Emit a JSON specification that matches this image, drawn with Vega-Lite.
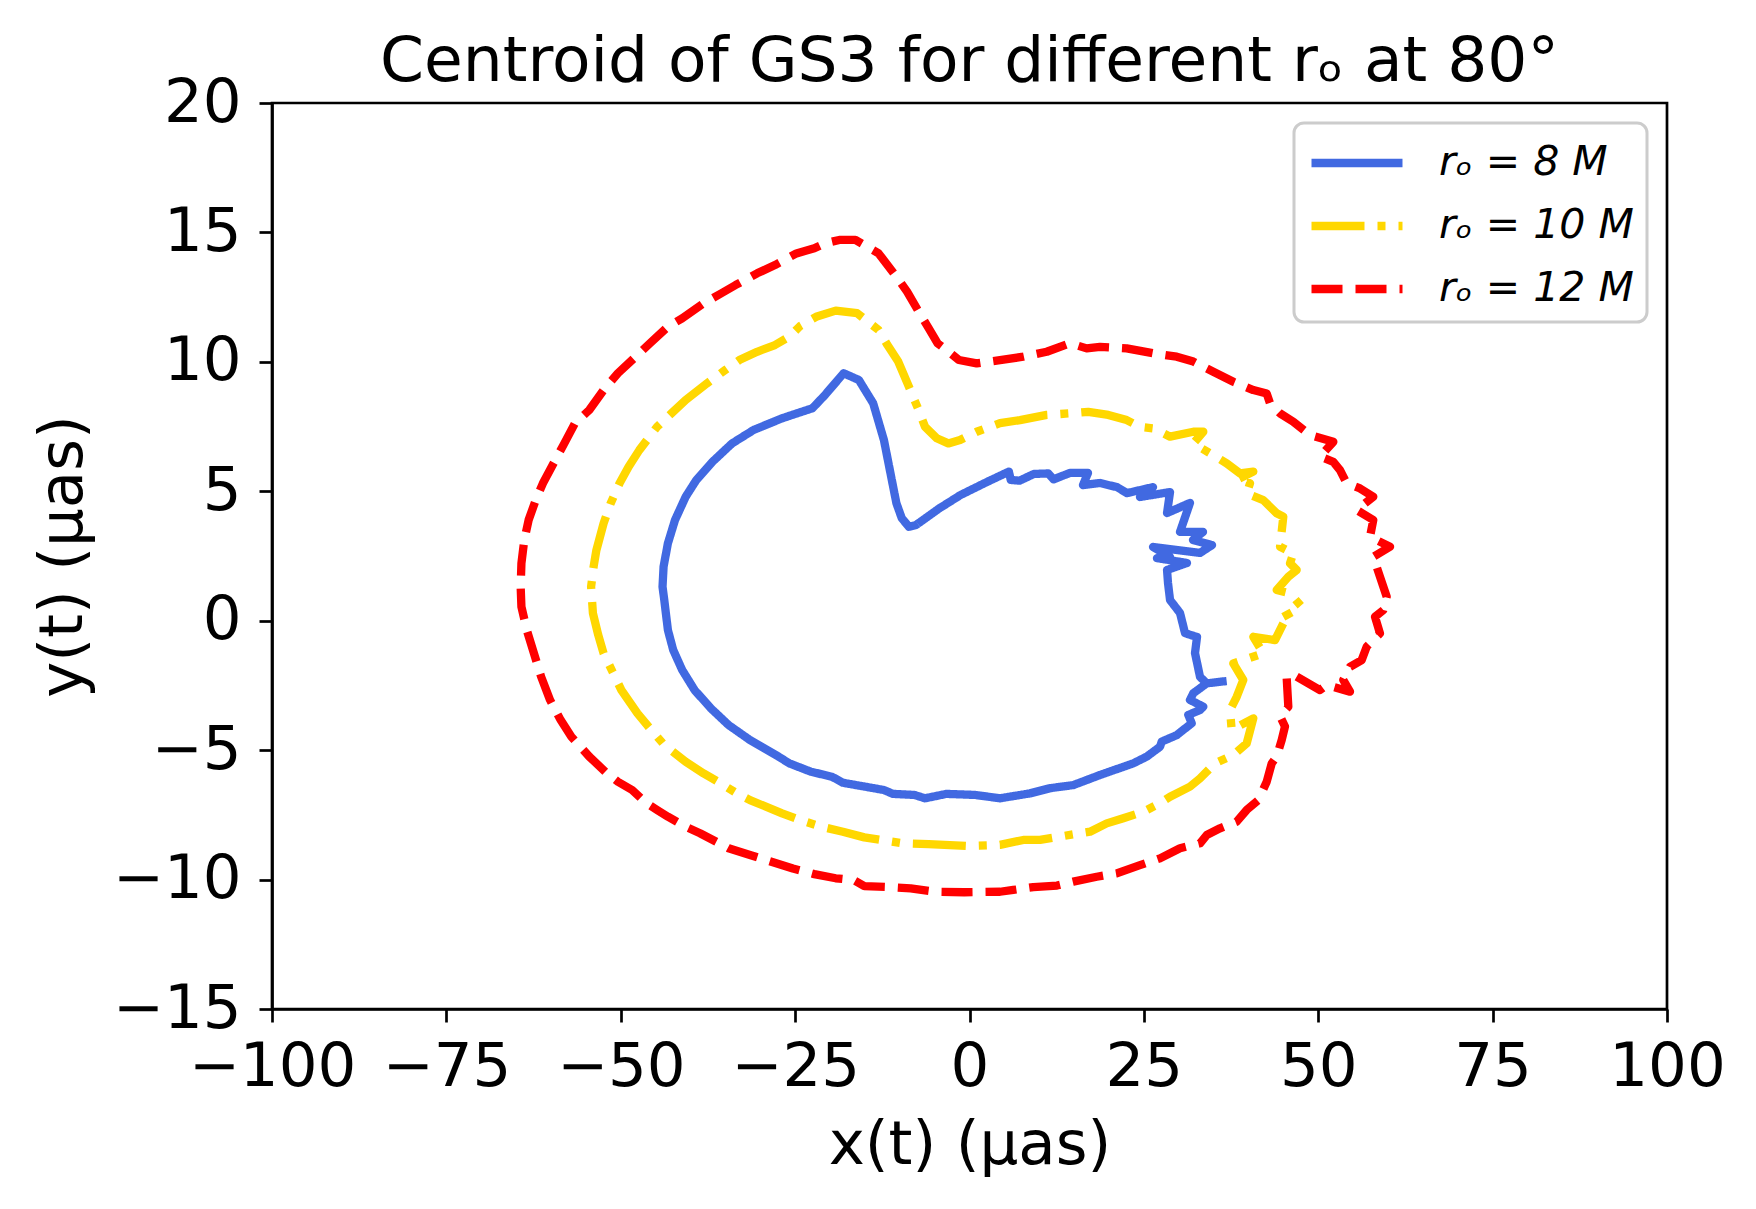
{
  "$schema": "https://vega.github.io/schema/vega-lite/v6.json",
  "width": 1395,
  "height": 906,
  "autosize": {"type": "none"},
  "padding": {"left": 272, "top": 103, "right": 89, "bottom": 200},
  "background": "white",
  "title": {
    "text": "Centroid of GS3 for different rₒ at 80°",
    "font": "DejaVu Sans",
    "fontSize": 63,
    "fontWeight": "normal",
    "color": "black",
    "baseline": "alphabetic",
    "offset": -72
  },
  "data": {
    "values": [
      {"series": "rₒ = 8 M", "i": 1, "x": 36.87, "y": -2.33},
      {"series": "rₒ = 8 M", "i": 2, "x": 34.01, "y": -2.42},
      {"series": "rₒ = 8 M", "i": 3, "x": 32.09, "y": -2.80},
      {"series": "rₒ = 8 M", "i": 4, "x": 31.61, "y": -3.06},
      {"series": "rₒ = 8 M", "i": 5, "x": 33.52, "y": -3.32},
      {"series": "rₒ = 8 M", "i": 6, "x": 33.05, "y": -3.45},
      {"series": "rₒ = 8 M", "i": 7, "x": 31.37, "y": -3.64},
      {"series": "rₒ = 8 M", "i": 8, "x": 31.86, "y": -3.96},
      {"series": "rₒ = 8 M", "i": 9, "x": 29.71, "y": -4.42},
      {"series": "rₒ = 8 M", "i": 10, "x": 27.56, "y": -4.67},
      {"series": "rₒ = 8 M", "i": 11, "x": 27.31, "y": -4.87},
      {"series": "rₒ = 8 M", "i": 12, "x": 25.41, "y": -5.25},
      {"series": "rₒ = 8 M", "i": 13, "x": 23.48, "y": -5.51},
      {"series": "rₒ = 8 M", "i": 14, "x": 18.71, "y": -5.96},
      {"series": "rₒ = 8 M", "i": 15, "x": 14.88, "y": -6.35},
      {"series": "rₒ = 8 M", "i": 16, "x": 11.54, "y": -6.47},
      {"series": "rₒ = 8 M", "i": 17, "x": 8.67, "y": -6.67},
      {"series": "rₒ = 8 M", "i": 18, "x": 4.37, "y": -6.86},
      {"series": "rₒ = 8 M", "i": 19, "x": 0.79, "y": -6.73},
      {"series": "rₒ = 8 M", "i": 20, "x": -3.31, "y": -6.69},
      {"series": "rₒ = 8 M", "i": 21, "x": -6.38, "y": -6.86},
      {"series": "rₒ = 8 M", "i": 22, "x": -7.91, "y": -6.73},
      {"series": "rₒ = 8 M", "i": 23, "x": -10.98, "y": -6.69},
      {"series": "rₒ = 8 M", "i": 24, "x": -12.27, "y": -6.54},
      {"series": "rₒ = 8 M", "i": 25, "x": -18.15, "y": -6.26},
      {"series": "rₒ = 8 M", "i": 26, "x": -19.70, "y": -6.03},
      {"series": "rₒ = 8 M", "i": 27, "x": -22.77, "y": -5.83},
      {"series": "rₒ = 8 M", "i": 28, "x": -25.84, "y": -5.51},
      {"series": "rₒ = 8 M", "i": 29, "x": -27.37, "y": -5.25},
      {"series": "rₒ = 8 M", "i": 30, "x": -31.47, "y": -4.61},
      {"series": "rₒ = 8 M", "i": 31, "x": -34.54, "y": -4.03},
      {"series": "rₒ = 8 M", "i": 32, "x": -37.10, "y": -3.38},
      {"series": "rₒ = 8 M", "i": 33, "x": -39.41, "y": -2.68},
      {"series": "rₒ = 8 M", "i": 34, "x": -41.20, "y": -1.90},
      {"series": "rₒ = 8 M", "i": 35, "x": -42.48, "y": -1.13},
      {"series": "rₒ = 8 M", "i": 36, "x": -43.24, "y": -0.36},
      {"series": "rₒ = 8 M", "i": 37, "x": -43.76, "y": 0.80},
      {"series": "rₒ = 8 M", "i": 38, "x": -44.01, "y": 1.31},
      {"series": "rₒ = 8 M", "i": 39, "x": -43.86, "y": 2.09},
      {"series": "rₒ = 8 M", "i": 40, "x": -43.24, "y": 2.99},
      {"series": "rₒ = 8 M", "i": 41, "x": -42.22, "y": 3.89},
      {"series": "rₒ = 8 M", "i": 42, "x": -40.69, "y": 4.79},
      {"series": "rₒ = 8 M", "i": 43, "x": -39.15, "y": 5.44},
      {"series": "rₒ = 8 M", "i": 44, "x": -36.85, "y": 6.14},
      {"series": "rₒ = 8 M", "i": 45, "x": -34.04, "y": 6.85},
      {"series": "rₒ = 8 M", "i": 46, "x": -30.95, "y": 7.37},
      {"series": "rₒ = 8 M", "i": 47, "x": -26.87, "y": 7.82},
      {"series": "rₒ = 8 M", "i": 48, "x": -22.51, "y": 8.21},
      {"series": "rₒ = 8 M", "i": 49, "x": -20.72, "y": 8.72},
      {"series": "rₒ = 8 M", "i": 50, "x": -18.05, "y": 9.56},
      {"series": "rₒ = 8 M", "i": 51, "x": -15.86, "y": 9.30},
      {"series": "rₒ = 8 M", "i": 52, "x": -13.81, "y": 8.40},
      {"series": "rₒ = 8 M", "i": 53, "x": -12.27, "y": 6.98},
      {"series": "rₒ = 8 M", "i": 54, "x": -10.48, "y": 4.54},
      {"series": "rₒ = 8 M", "i": 55, "x": -9.71, "y": 3.96},
      {"series": "rₒ = 8 M", "i": 56, "x": -8.69, "y": 3.63},
      {"series": "rₒ = 8 M", "i": 57, "x": -7.66, "y": 3.70},
      {"series": "rₒ = 8 M", "i": 58, "x": -4.33, "y": 4.34},
      {"series": "rₒ = 8 M", "i": 59, "x": -1.26, "y": 4.86},
      {"series": "rₒ = 8 M", "i": 60, "x": 2.58, "y": 5.37},
      {"series": "rₒ = 8 M", "i": 61, "x": 5.65, "y": 5.76},
      {"series": "rₒ = 8 M", "i": 62, "x": 5.91, "y": 5.44},
      {"series": "rₒ = 8 M", "i": 63, "x": 7.18, "y": 5.41},
      {"series": "rₒ = 8 M", "i": 64, "x": 9.23, "y": 5.67},
      {"series": "rₒ = 8 M", "i": 65, "x": 11.28, "y": 5.69},
      {"series": "rₒ = 8 M", "i": 66, "x": 12.06, "y": 5.46},
      {"series": "rₒ = 8 M", "i": 67, "x": 12.98, "y": 5.56},
      {"series": "rₒ = 8 M", "i": 68, "x": 14.41, "y": 5.71},
      {"series": "rₒ = 8 M", "i": 69, "x": 16.99, "y": 5.71},
      {"series": "rₒ = 8 M", "i": 70, "x": 16.27, "y": 5.24},
      {"series": "rₒ = 8 M", "i": 71, "x": 18.71, "y": 5.32},
      {"series": "rₒ = 8 M", "i": 72, "x": 21.15, "y": 5.16},
      {"series": "rₒ = 8 M", "i": 73, "x": 22.58, "y": 4.93},
      {"series": "rₒ = 8 M", "i": 74, "x": 26.31, "y": 5.16},
      {"series": "rₒ = 8 M", "i": 75, "x": 24.44, "y": 4.78},
      {"series": "rₒ = 8 M", "i": 76, "x": 28.75, "y": 4.97},
      {"series": "rₒ = 8 M", "i": 77, "x": 28.32, "y": 4.16},
      {"series": "rₒ = 8 M", "i": 78, "x": 31.61, "y": 4.55},
      {"series": "rₒ = 8 M", "i": 79, "x": 30.18, "y": 3.43},
      {"series": "rₒ = 8 M", "i": 80, "x": 33.48, "y": 3.43},
      {"series": "rₒ = 8 M", "i": 81, "x": 32.04, "y": 3.12},
      {"series": "rₒ = 8 M", "i": 82, "x": 34.77, "y": 2.92},
      {"series": "rₒ = 8 M", "i": 83, "x": 33.05, "y": 2.62},
      {"series": "rₒ = 8 M", "i": 84, "x": 26.31, "y": 2.85},
      {"series": "rₒ = 8 M", "i": 85, "x": 28.75, "y": 2.46},
      {"series": "rₒ = 8 M", "i": 86, "x": 26.88, "y": 2.42},
      {"series": "rₒ = 8 M", "i": 87, "x": 31.18, "y": 2.23},
      {"series": "rₒ = 8 M", "i": 88, "x": 28.32, "y": 1.96},
      {"series": "rₒ = 8 M", "i": 89, "x": 28.46, "y": 1.46},
      {"series": "rₒ = 8 M", "i": 90, "x": 28.75, "y": 0.80},
      {"series": "rₒ = 8 M", "i": 91, "x": 30.18, "y": 0.30},
      {"series": "rₒ = 8 M", "i": 92, "x": 30.90, "y": -0.48},
      {"series": "rₒ = 8 M", "i": 93, "x": 32.62, "y": -0.63},
      {"series": "rₒ = 8 M", "i": 94, "x": 32.33, "y": -1.25},
      {"series": "rₒ = 8 M", "i": 95, "x": 33.05, "y": -2.17},
      {"series": "rₒ = 8 M", "i": 96, "x": 34.01, "y": -2.42},

      {"series": "rₒ = 10 M", "i": 1, "x": 44.99, "y": -0.10},
      {"series": "rₒ = 10 M", "i": 2, "x": 43.80, "y": -0.75},
      {"series": "rₒ = 10 M", "i": 3, "x": 40.69, "y": -0.62},
      {"series": "rₒ = 10 M", "i": 4, "x": 42.12, "y": -1.26},
      {"series": "rₒ = 10 M", "i": 5, "x": 37.82, "y": -1.65},
      {"series": "rₒ = 10 M", "i": 6, "x": 39.25, "y": -2.29},
      {"series": "rₒ = 10 M", "i": 7, "x": 38.31, "y": -2.94},
      {"series": "rₒ = 10 M", "i": 8, "x": 37.35, "y": -3.45},
      {"series": "rₒ = 10 M", "i": 9, "x": 37.59, "y": -4.22},
      {"series": "rₒ = 10 M", "i": 10, "x": 40.69, "y": -3.77},
      {"series": "rₒ = 10 M", "i": 11, "x": 39.74, "y": -4.74},
      {"series": "rₒ = 10 M", "i": 12, "x": 37.82, "y": -5.19},
      {"series": "rₒ = 10 M", "i": 13, "x": 35.20, "y": -5.51},
      {"series": "rₒ = 10 M", "i": 14, "x": 33.05, "y": -6.09},
      {"series": "rₒ = 10 M", "i": 15, "x": 31.61, "y": -6.41},
      {"series": "rₒ = 10 M", "i": 16, "x": 28.75, "y": -6.80},
      {"series": "rₒ = 10 M", "i": 17, "x": 27.31, "y": -7.05},
      {"series": "rₒ = 10 M", "i": 18, "x": 24.92, "y": -7.38},
      {"series": "rₒ = 10 M", "i": 19, "x": 22.05, "y": -7.63},
      {"series": "rₒ = 10 M", "i": 20, "x": 19.67, "y": -7.83},
      {"series": "rₒ = 10 M", "i": 21, "x": 17.28, "y": -8.15},
      {"series": "rₒ = 10 M", "i": 22, "x": 15.84, "y": -8.21},
      {"series": "rₒ = 10 M", "i": 23, "x": 12.98, "y": -8.34},
      {"series": "rₒ = 10 M", "i": 24, "x": 10.11, "y": -8.47},
      {"series": "rₒ = 10 M", "i": 25, "x": 7.71, "y": -8.47},
      {"series": "rₒ = 10 M", "i": 26, "x": 4.37, "y": -8.66},
      {"series": "rₒ = 10 M", "i": 27, "x": -0.23, "y": -8.70},
      {"series": "rₒ = 10 M", "i": 28, "x": -5.86, "y": -8.63},
      {"series": "rₒ = 10 M", "i": 29, "x": -9.45, "y": -8.60},
      {"series": "rₒ = 10 M", "i": 30, "x": -15.08, "y": -8.37},
      {"series": "rₒ = 10 M", "i": 31, "x": -18.15, "y": -8.15},
      {"series": "rₒ = 10 M", "i": 32, "x": -21.23, "y": -7.96},
      {"series": "rₒ = 10 M", "i": 33, "x": -24.30, "y": -7.70},
      {"series": "rₒ = 10 M", "i": 34, "x": -26.87, "y": -7.44},
      {"series": "rₒ = 10 M", "i": 35, "x": -31.47, "y": -6.93},
      {"series": "rₒ = 10 M", "i": 36, "x": -33.52, "y": -6.64},
      {"series": "rₒ = 10 M", "i": 37, "x": -36.07, "y": -6.22},
      {"series": "rₒ = 10 M", "i": 38, "x": -38.12, "y": -5.90},
      {"series": "rₒ = 10 M", "i": 39, "x": -40.69, "y": -5.45},
      {"series": "rₒ = 10 M", "i": 40, "x": -43.76, "y": -4.80},
      {"series": "rₒ = 10 M", "i": 41, "x": -45.81, "y": -4.16},
      {"series": "rₒ = 10 M", "i": 42, "x": -47.60, "y": -3.58},
      {"series": "rₒ = 10 M", "i": 43, "x": -49.91, "y": -2.68},
      {"series": "rₒ = 10 M", "i": 44, "x": -51.18, "y": -1.97},
      {"series": "rₒ = 10 M", "i": 45, "x": -52.46, "y": -1.26},
      {"series": "rₒ = 10 M", "i": 46, "x": -53.23, "y": -0.55},
      {"series": "rₒ = 10 M", "i": 47, "x": -53.99, "y": 0.29},
      {"series": "rₒ = 10 M", "i": 48, "x": -54.25, "y": 1.31},
      {"series": "rₒ = 10 M", "i": 49, "x": -53.89, "y": 2.09},
      {"series": "rₒ = 10 M", "i": 50, "x": -53.49, "y": 2.73},
      {"series": "rₒ = 10 M", "i": 51, "x": -52.46, "y": 3.76},
      {"series": "rₒ = 10 M", "i": 52, "x": -51.44, "y": 4.54},
      {"series": "rₒ = 10 M", "i": 53, "x": -50.17, "y": 5.31},
      {"series": "rₒ = 10 M", "i": 54, "x": -48.87, "y": 5.95},
      {"series": "rₒ = 10 M", "i": 55, "x": -47.34, "y": 6.59},
      {"series": "rₒ = 10 M", "i": 56, "x": -44.79, "y": 7.49},
      {"series": "rₒ = 10 M", "i": 57, "x": -42.74, "y": 8.01},
      {"series": "rₒ = 10 M", "i": 58, "x": -40.69, "y": 8.53},
      {"series": "rₒ = 10 M", "i": 59, "x": -37.62, "y": 9.17},
      {"series": "rₒ = 10 M", "i": 60, "x": -35.05, "y": 9.68},
      {"series": "rₒ = 10 M", "i": 61, "x": -33.00, "y": 10.07},
      {"series": "rₒ = 10 M", "i": 62, "x": -30.45, "y": 10.39},
      {"series": "rₒ = 10 M", "i": 63, "x": -27.89, "y": 10.65},
      {"series": "rₒ = 10 M", "i": 64, "x": -25.84, "y": 10.97},
      {"series": "rₒ = 10 M", "i": 65, "x": -24.30, "y": 11.38},
      {"series": "rₒ = 10 M", "i": 66, "x": -21.99, "y": 11.74},
      {"series": "rₒ = 10 M", "i": 67, "x": -19.18, "y": 11.98},
      {"series": "rₒ = 10 M", "i": 68, "x": -16.11, "y": 11.88},
      {"series": "rₒ = 10 M", "i": 69, "x": -13.03, "y": 11.23},
      {"series": "rₒ = 10 M", "i": 70, "x": -11.76, "y": 10.65},
      {"series": "rₒ = 10 M", "i": 71, "x": -10.22, "y": 10.01},
      {"series": "rₒ = 10 M", "i": 72, "x": -8.69, "y": 9.04},
      {"series": "rₒ = 10 M", "i": 73, "x": -7.40, "y": 8.21},
      {"series": "rₒ = 10 M", "i": 74, "x": -6.38, "y": 7.49},
      {"series": "rₒ = 10 M", "i": 75, "x": -4.70, "y": 7.05},
      {"series": "rₒ = 10 M", "i": 76, "x": -3.04, "y": 6.85},
      {"series": "rₒ = 10 M", "i": 77, "x": -1.36, "y": 6.98},
      {"series": "rₒ = 10 M", "i": 78, "x": 1.03, "y": 7.30},
      {"series": "rₒ = 10 M", "i": 79, "x": 4.37, "y": 7.63},
      {"series": "rₒ = 10 M", "i": 80, "x": 7.24, "y": 7.75},
      {"series": "rₒ = 10 M", "i": 81, "x": 11.07, "y": 7.95},
      {"series": "rₒ = 10 M", "i": 82, "x": 14.41, "y": 8.01},
      {"series": "rₒ = 10 M", "i": 83, "x": 17.03, "y": 8.07},
      {"series": "rₒ = 10 M", "i": 84, "x": 19.90, "y": 7.95},
      {"series": "rₒ = 10 M", "i": 85, "x": 22.54, "y": 7.75},
      {"series": "rₒ = 10 M", "i": 86, "x": 24.44, "y": 7.49},
      {"series": "rₒ = 10 M", "i": 87, "x": 26.35, "y": 7.43},
      {"series": "rₒ = 10 M", "i": 88, "x": 28.75, "y": 7.11},
      {"series": "rₒ = 10 M", "i": 89, "x": 32.09, "y": 7.30},
      {"series": "rₒ = 10 M", "i": 90, "x": 33.52, "y": 7.30},
      {"series": "rₒ = 10 M", "i": 91, "x": 32.09, "y": 6.85},
      {"series": "rₒ = 10 M", "i": 92, "x": 34.48, "y": 6.47},
      {"series": "rₒ = 10 M", "i": 93, "x": 36.87, "y": 6.08},
      {"series": "rₒ = 10 M", "i": 94, "x": 38.78, "y": 5.69},
      {"series": "rₒ = 10 M", "i": 95, "x": 40.69, "y": 5.76},
      {"series": "rₒ = 10 M", "i": 96, "x": 38.31, "y": 5.44},
      {"series": "rₒ = 10 M", "i": 97, "x": 40.22, "y": 5.31},
      {"series": "rₒ = 10 M", "i": 98, "x": 39.74, "y": 4.92},
      {"series": "rₒ = 10 M", "i": 99, "x": 42.12, "y": 4.66},
      {"series": "rₒ = 10 M", "i": 100, "x": 44.04, "y": 4.15},
      {"series": "rₒ = 10 M", "i": 101, "x": 44.99, "y": 4.02},
      {"series": "rₒ = 10 M", "i": 102, "x": 44.52, "y": 2.86},
      {"series": "rₒ = 10 M", "i": 103, "x": 46.42, "y": 2.60},
      {"series": "rₒ = 10 M", "i": 104, "x": 45.95, "y": 2.22},
      {"series": "rₒ = 10 M", "i": 105, "x": 46.91, "y": 1.96},
      {"series": "rₒ = 10 M", "i": 106, "x": 45.71, "y": 1.70},
      {"series": "rₒ = 10 M", "i": 107, "x": 44.04, "y": 1.19},
      {"series": "rₒ = 10 M", "i": 108, "x": 45.95, "y": 1.06},
      {"series": "rₒ = 10 M", "i": 109, "x": 47.63, "y": 0.54},
      {"series": "rₒ = 10 M", "i": 110, "x": 44.99, "y": 0.15},

      {"series": "rₒ = 12 M", "i": 1, "x": 45.48, "y": -2.23},
      {"series": "rₒ = 12 M", "i": 2, "x": 45.71, "y": -3.32},
      {"series": "rₒ = 12 M", "i": 3, "x": 44.52, "y": -3.68},
      {"series": "rₒ = 12 M", "i": 4, "x": 45.23, "y": -4.09},
      {"series": "rₒ = 12 M", "i": 5, "x": 44.76, "y": -4.61},
      {"series": "rₒ = 12 M", "i": 6, "x": 44.04, "y": -5.25},
      {"series": "rₒ = 12 M", "i": 7, "x": 43.33, "y": -5.51},
      {"series": "rₒ = 12 M", "i": 8, "x": 42.61, "y": -6.22},
      {"series": "rₒ = 12 M", "i": 9, "x": 41.41, "y": -6.93},
      {"series": "rₒ = 12 M", "i": 10, "x": 39.74, "y": -7.31},
      {"series": "rₒ = 12 M", "i": 11, "x": 38.31, "y": -7.76},
      {"series": "rₒ = 12 M", "i": 12, "x": 35.91, "y": -8.02},
      {"series": "rₒ = 12 M", "i": 13, "x": 34.01, "y": -8.28},
      {"series": "rₒ = 12 M", "i": 14, "x": 33.05, "y": -8.60},
      {"series": "rₒ = 12 M", "i": 15, "x": 30.18, "y": -8.79},
      {"series": "rₒ = 12 M", "i": 16, "x": 27.31, "y": -9.18},
      {"series": "rₒ = 12 M", "i": 17, "x": 24.44, "y": -9.44},
      {"series": "rₒ = 12 M", "i": 18, "x": 21.10, "y": -9.76},
      {"series": "rₒ = 12 M", "i": 19, "x": 18.24, "y": -9.89},
      {"series": "rₒ = 12 M", "i": 20, "x": 14.88, "y": -10.08},
      {"series": "rₒ = 12 M", "i": 21, "x": 12.55, "y": -10.23},
      {"series": "rₒ = 12 M", "i": 22, "x": 9.15, "y": -10.29},
      {"series": "rₒ = 12 M", "i": 23, "x": 6.28, "y": -10.40},
      {"series": "rₒ = 12 M", "i": 24, "x": 4.37, "y": -10.47},
      {"series": "rₒ = 12 M", "i": 25, "x": -0.75, "y": -10.49},
      {"series": "rₒ = 12 M", "i": 26, "x": -4.85, "y": -10.47},
      {"series": "rₒ = 12 M", "i": 27, "x": -8.43, "y": -10.34},
      {"series": "rₒ = 12 M", "i": 28, "x": -12.01, "y": -10.28},
      {"series": "rₒ = 12 M", "i": 29, "x": -15.08, "y": -10.25},
      {"series": "rₒ = 12 M", "i": 30, "x": -16.62, "y": -10.02},
      {"series": "rₒ = 12 M", "i": 31, "x": -19.18, "y": -9.95},
      {"series": "rₒ = 12 M", "i": 32, "x": -22.25, "y": -9.79},
      {"series": "rₒ = 12 M", "i": 33, "x": -25.32, "y": -9.57},
      {"series": "rₒ = 12 M", "i": 34, "x": -28.40, "y": -9.31},
      {"series": "rₒ = 12 M", "i": 35, "x": -31.47, "y": -9.05},
      {"series": "rₒ = 12 M", "i": 36, "x": -34.54, "y": -8.79},
      {"series": "rₒ = 12 M", "i": 37, "x": -38.64, "y": -8.21},
      {"series": "rₒ = 12 M", "i": 38, "x": -40.69, "y": -7.96},
      {"series": "rₒ = 12 M", "i": 39, "x": -43.24, "y": -7.57},
      {"series": "rₒ = 12 M", "i": 40, "x": -44.79, "y": -7.31},
      {"series": "rₒ = 12 M", "i": 41, "x": -46.32, "y": -7.05},
      {"series": "rₒ = 12 M", "i": 42, "x": -48.37, "y": -6.54},
      {"series": "rₒ = 12 M", "i": 43, "x": -50.41, "y": -6.22},
      {"series": "rₒ = 12 M", "i": 44, "x": -51.96, "y": -5.90},
      {"series": "rₒ = 12 M", "i": 45, "x": -54.51, "y": -5.25},
      {"series": "rₒ = 12 M", "i": 46, "x": -57.08, "y": -4.48},
      {"series": "rₒ = 12 M", "i": 47, "x": -58.61, "y": -3.84},
      {"series": "rₒ = 12 M", "i": 48, "x": -60.14, "y": -3.06},
      {"series": "rₒ = 12 M", "i": 49, "x": -61.42, "y": -2.16},
      {"series": "rₒ = 12 M", "i": 50, "x": -62.45, "y": -1.26},
      {"series": "rₒ = 12 M", "i": 51, "x": -63.47, "y": -0.36},
      {"series": "rₒ = 12 M", "i": 52, "x": -64.24, "y": 0.54},
      {"series": "rₒ = 12 M", "i": 53, "x": -64.35, "y": 1.31},
      {"series": "rₒ = 12 M", "i": 54, "x": -64.24, "y": 2.22},
      {"series": "rₒ = 12 M", "i": 55, "x": -63.83, "y": 3.12},
      {"series": "rₒ = 12 M", "i": 56, "x": -63.21, "y": 3.89},
      {"series": "rₒ = 12 M", "i": 57, "x": -62.19, "y": 4.66},
      {"series": "rₒ = 12 M", "i": 58, "x": -61.16, "y": 5.31},
      {"series": "rₒ = 12 M", "i": 59, "x": -59.63, "y": 6.08},
      {"series": "rₒ = 12 M", "i": 60, "x": -58.09, "y": 6.85},
      {"series": "rₒ = 12 M", "i": 61, "x": -56.56, "y": 7.63},
      {"series": "rₒ = 12 M", "i": 62, "x": -54.51, "y": 8.14},
      {"series": "rₒ = 12 M", "i": 63, "x": -52.46, "y": 8.91},
      {"series": "rₒ = 12 M", "i": 64, "x": -50.41, "y": 9.56},
      {"series": "rₒ = 12 M", "i": 65, "x": -47.86, "y": 10.20},
      {"series": "rₒ = 12 M", "i": 66, "x": -45.81, "y": 10.72},
      {"series": "rₒ = 12 M", "i": 67, "x": -43.24, "y": 11.36},
      {"series": "rₒ = 12 M", "i": 68, "x": -41.20, "y": 11.68},
      {"series": "rₒ = 12 M", "i": 69, "x": -38.12, "y": 12.26},
      {"series": "rₒ = 12 M", "i": 70, "x": -35.57, "y": 12.65},
      {"series": "rₒ = 12 M", "i": 71, "x": -33.52, "y": 12.97},
      {"series": "rₒ = 12 M", "i": 72, "x": -30.45, "y": 13.42},
      {"series": "rₒ = 12 M", "i": 73, "x": -27.89, "y": 13.74},
      {"series": "rₒ = 12 M", "i": 74, "x": -24.82, "y": 14.19},
      {"series": "rₒ = 12 M", "i": 75, "x": -22.25, "y": 14.39},
      {"series": "rₒ = 12 M", "i": 76, "x": -20.72, "y": 14.58},
      {"series": "rₒ = 12 M", "i": 77, "x": -18.67, "y": 14.71},
      {"series": "rₒ = 12 M", "i": 78, "x": -16.36, "y": 14.71},
      {"series": "rₒ = 12 M", "i": 79, "x": -15.08, "y": 14.51},
      {"series": "rₒ = 12 M", "i": 80, "x": -13.03, "y": 14.19},
      {"series": "rₒ = 12 M", "i": 81, "x": -10.48, "y": 13.29},
      {"series": "rₒ = 12 M", "i": 82, "x": -8.95, "y": 12.71},
      {"series": "rₒ = 12 M", "i": 83, "x": -7.15, "y": 11.88},
      {"series": "rₒ = 12 M", "i": 84, "x": -5.86, "y": 11.30},
      {"series": "rₒ = 12 M", "i": 85, "x": -4.59, "y": 10.72},
      {"series": "rₒ = 12 M", "i": 86, "x": -3.31, "y": 10.46},
      {"series": "rₒ = 12 M", "i": 87, "x": -1.52, "y": 10.07},
      {"series": "rₒ = 12 M", "i": 88, "x": 1.03, "y": 9.94},
      {"series": "rₒ = 12 M", "i": 89, "x": 4.37, "y": 10.07},
      {"series": "rₒ = 12 M", "i": 90, "x": 7.71, "y": 10.20},
      {"series": "rₒ = 12 M", "i": 91, "x": 11.07, "y": 10.39},
      {"series": "rₒ = 12 M", "i": 92, "x": 14.41, "y": 10.72},
      {"series": "rₒ = 12 M", "i": 93, "x": 16.80, "y": 10.52},
      {"series": "rₒ = 12 M", "i": 94, "x": 18.71, "y": 10.58},
      {"series": "rₒ = 12 M", "i": 95, "x": 22.54, "y": 10.52},
      {"series": "rₒ = 12 M", "i": 96, "x": 26.35, "y": 10.33},
      {"series": "rₒ = 12 M", "i": 97, "x": 29.71, "y": 10.20},
      {"series": "rₒ = 12 M", "i": 98, "x": 32.09, "y": 10.01},
      {"series": "rₒ = 12 M", "i": 99, "x": 34.95, "y": 9.62},
      {"series": "rₒ = 12 M", "i": 100, "x": 37.82, "y": 9.23},
      {"series": "rₒ = 12 M", "i": 101, "x": 40.69, "y": 8.91},
      {"series": "rₒ = 12 M", "i": 102, "x": 42.61, "y": 8.78},
      {"series": "rₒ = 12 M", "i": 103, "x": 43.08, "y": 8.40},
      {"series": "rₒ = 12 M", "i": 104, "x": 44.52, "y": 8.01},
      {"series": "rₒ = 12 M", "i": 105, "x": 46.42, "y": 7.69},
      {"series": "rₒ = 12 M", "i": 106, "x": 48.82, "y": 7.17},
      {"series": "rₒ = 12 M", "i": 107, "x": 52.16, "y": 6.91},
      {"series": "rₒ = 12 M", "i": 108, "x": 50.25, "y": 6.34},
      {"series": "rₒ = 12 M", "i": 109, "x": 52.16, "y": 6.14},
      {"series": "rₒ = 12 M", "i": 110, "x": 53.12, "y": 5.82},
      {"series": "rₒ = 12 M", "i": 111, "x": 54.08, "y": 5.31},
      {"series": "rₒ = 12 M", "i": 112, "x": 55.99, "y": 5.11},
      {"series": "rₒ = 12 M", "i": 113, "x": 57.89, "y": 4.79},
      {"series": "rₒ = 12 M", "i": 114, "x": 55.51, "y": 4.28},
      {"series": "rₒ = 12 M", "i": 115, "x": 57.89, "y": 3.89},
      {"series": "rₒ = 12 M", "i": 116, "x": 57.42, "y": 3.24},
      {"series": "rₒ = 12 M", "i": 117, "x": 60.29, "y": 2.86},
      {"series": "rₒ = 12 M", "i": 118, "x": 57.89, "y": 2.47},
      {"series": "rₒ = 12 M", "i": 119, "x": 58.85, "y": 1.70},
      {"series": "rₒ = 12 M", "i": 120, "x": 59.81, "y": 0.93},
      {"series": "rₒ = 12 M", "i": 121, "x": 59.33, "y": 0.41},
      {"series": "rₒ = 12 M", "i": 122, "x": 58.14, "y": 0.15},
      {"series": "rₒ = 12 M", "i": 123, "x": 58.85, "y": -0.49},
      {"series": "rₒ = 12 M", "i": 124, "x": 56.95, "y": -1.00},
      {"series": "rₒ = 12 M", "i": 125, "x": 56.23, "y": -1.52},
      {"series": "rₒ = 12 M", "i": 126, "x": 54.55, "y": -1.78},
      {"series": "rₒ = 12 M", "i": 127, "x": 53.59, "y": -2.29},
      {"series": "rₒ = 12 M", "i": 128, "x": 54.55, "y": -2.74},
      {"series": "rₒ = 12 M", "i": 129, "x": 51.21, "y": -2.48},
      {"series": "rₒ = 12 M", "i": 130, "x": 50.25, "y": -2.68},
      {"series": "rₒ = 12 M", "i": 131, "x": 46.91, "y": -2.16}
    ]
  },
  "mark": {"type": "line", "strokeWidth": 8.3, "strokeJoin": "round"},
  "encoding": {
    "x": {
      "field": "x",
      "type": "quantitative",
      "scale": {"domain": [-100, 100], "nice": false, "zero": false},
      "axis": {"values": [-100, -75, -50, -25, 0, 25, 50, 75, 100], "title": "x(t) (μas)", "labelPadding": 15, "titlePadding": 18, "labelOverlap": false, "labelFlush": false}
    },
    "y": {
      "field": "y",
      "type": "quantitative",
      "scale": {"domain": [-15, 20], "nice": false, "zero": false},
      "axis": {"values": [-15, -10, -5, 0, 5, 10, 15, 20], "title": "y(t) (μas)", "labelPadding": 18, "titlePadding": 18, "labelOverlap": false, "labelFlush": false}
    },
    "order": {"field": "i", "type": "quantitative"},
    "color": {
      "field": "series",
      "type": "nominal",
      "scale": {"domain": ["rₒ = 8 M", "rₒ = 10 M", "rₒ = 12 M"], "range": ["#4169E1", "#FFD700", "#FF0000"]},
      "legend": {"title": null}
    },
    "strokeDash": {
      "field": "series",
      "type": "nominal",
      "scale": {"domain": ["rₒ = 8 M", "rₒ = 10 M", "rₒ = 12 M"], "range": [[1, 0], [53, 13, 8, 13], [31, 13]]},
      "legend": {"title": null}
    }
  },
  "config": {
    "view": {"stroke": "black", "strokeWidth": 2.7},
    "axis": {
      "grid": false,
      "domainColor": "black",
      "domainWidth": 2.7,
      "tickColor": "black",
      "tickWidth": 2.7,
      "tickSize": 13,
      "labelFont": "DejaVu Sans",
      "labelFontSize": 61,
      "labelColor": "black",
      "titleFont": "DejaVu Sans",
      "titleFontSize": 61,
      "titleFontWeight": "normal",
      "titleColor": "black"
    },
    "legend": {
      "orient": "top-right",
      "offset": 20,
      "padding": 13,
      "cornerRadius": 10,
      "strokeColor": "#cccccc",
      "strokeWidth": 3,
      "fillColor": "rgba(255,255,255,0.8)",
      "symbolType": "M-2,0H2",
      "symbolSize": 2070,
      "symbolOffset": 23,
      "symbolStrokeWidth": 8.3,
      "labelFont": "DejaVu Sans",
      "labelFontSize": 41,
      "labelFontStyle": "italic",
      "labelColor": "black",
      "labelOffset": 55,
      "rowPadding": 16,
      "labelLimit": 400
    }
  }
}
